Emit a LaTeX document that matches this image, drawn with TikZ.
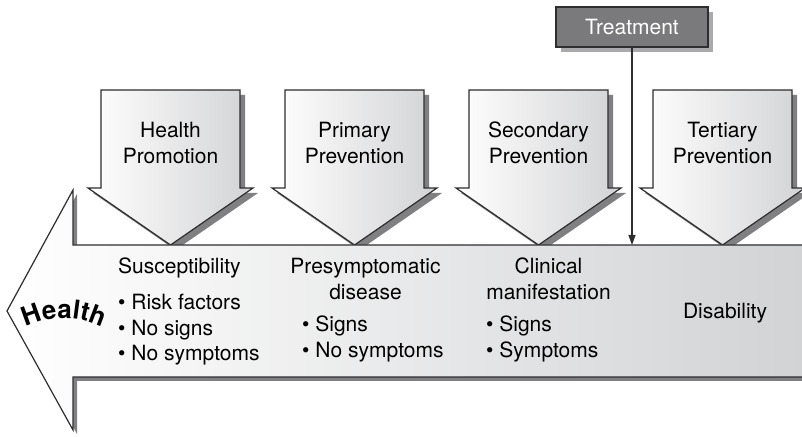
\documentclass[tikz,border=0pt]{standalone}
\usepackage{fontspec}
\setmainfont{TeX Gyre Heros}
\usetikzlibrary{arrows.meta,shadows,decorations.text}

\definecolor{edgegray}{HTML}{2E2E30}
\definecolor{fadegray}{HTML}{D2D3D5}
\definecolor{shadegray}{HTML}{808082}
\definecolor{boxgray}{HTML}{7A7A7C}
\definecolor{boxshade}{HTML}{AAAAAC}

\begin{document}
\begin{tikzpicture}[x=1pt,y=1pt,line join=miter,
  every node/.style={inner sep=0pt,font=\fontsize{21}{25.5}\selectfont},
  arrowbody/.style={draw=edgegray,line width=1.2pt,left color=white,right color=fadegray},
  castshadow/.style={drop shadow={shadow xshift=#1,shadow yshift=-#1,fill=shadegray,opacity=1}},
  coltitle/.style={anchor=north,align=center},
  collist/.style={anchor=north west,align=left}]
\useasboundingbox (0,0) rectangle (802,436);
% the four prevention levels
\foreach \x/\nm/\txt in {101/promo/Health\\Promotion,285/prim/Primary\\Prevention,
                        469/sec/Secondary\\Prevention,653/tert/Tertiary\\Prevention}{
  \draw[arrowbody,castshadow=5pt] (\x,346) -- (\x+139,346) -- (\x+139,248) -- (\x+152,248)
    -- (\x+69.5,191) -- (\x-13,248) -- (\x,248) -- cycle;
  \node[coltitle] (\nm) at (\x+69.5,314) {\txt};
}
% the health axis
\draw[arrowbody,castshadow=4pt] (802,191) -- (73,191) -- (73,246) -- (7,125) -- (73,6) -- (73,59) -- (802,59);
\path[decorate,decoration={text along path,text align=center,
  text={|\fontsize{26}{30}\selectfont\bfseries|Health}}] (20,106) arc[start angle=120,end angle=60,radius=88];
\node[anchor=north west] (susc) at (118,178) {Susceptibility};
\node[collist] (suscitems) at (118,142) {• Risk factors\\• No signs\\• No symptoms};
\node[coltitle] (presym) at (365.5,178) {Presymptomatic\\disease};
\node[collist] (presymitems) at (302,120) {• Signs\\• No symptoms};
\node[coltitle] (clin) at (548.5,178) {Clinical\\manifestation};
\node[collist] (clinitems) at (486,120) {• Signs\\• Symptoms};
\node[anchor=base] (disab) at (725,117) {Disability};
% treatment
\node[draw=edgegray,fill=boxgray,text=white,line width=1.2pt,minimum width=152pt,minimum height=40pt,
  drop shadow={shadow xshift=5pt,shadow yshift=-5pt,fill=boxshade,opacity=1}] (treat) at (632,409) {Treatment};
\coordinate (hit) at (632,191);
\draw[-{Triangle[length=10pt,width=7pt]},line width=1.1pt,draw=edgegray] (treat) -- (hit);
\end{tikzpicture}
\end{document}
